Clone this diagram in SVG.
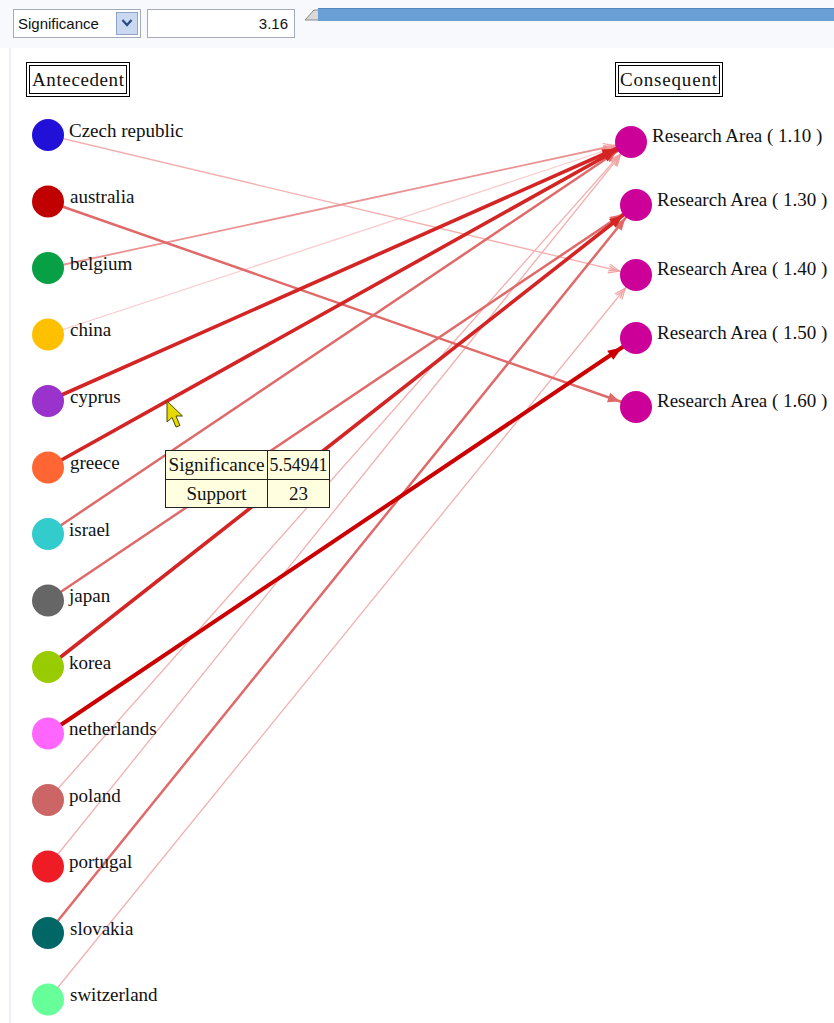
<svg xmlns="http://www.w3.org/2000/svg" width="834" height="1023" viewBox="0 0 834 1023">
<style>
.lbl{font-family:"Liberation Serif","Times New Roman",serif;font-size:19px;fill:#111}
.ui{font-family:"Liberation Sans",Arial,sans-serif;font-size:15px;fill:#111}
.hdr{fill:#fff;stroke:#000;stroke-width:1}
.e{fill:none;stroke-linecap:round}
.thin{stroke:#f3b0b0;stroke-width:1.3;marker-end:url(#aLight)}
.med{stroke:#e06a6a;stroke-width:2.5;marker-end:url(#aMed)}
.thick{stroke:#d42424;stroke-width:3.6;marker-end:url(#aRed)}
.dark{stroke:#cc0000;stroke-width:4;marker-end:url(#aDark)}
.tt{fill:#ffffe0;stroke:#222;stroke-width:1}
.c{fill:#cc0099}
</style>
<defs>
<marker id="aDark" markerUnits="userSpaceOnUse" markerWidth="14" markerHeight="11" viewBox="0 0 14 11" refX="31" refY="5.5" orient="auto" overflow="visible"><path d="M0,0 L14,5.5 L0,11 Z" fill="#cc0000"/></marker>
<marker id="aRed" markerUnits="userSpaceOnUse" markerWidth="13" markerHeight="11" viewBox="0 0 13 11" refX="30" refY="5.5" orient="auto" overflow="visible"><path d="M0,0 L13,5.5 L0,11 Z" fill="#d42424"/></marker>
<marker id="aMed" markerUnits="userSpaceOnUse" markerWidth="12" markerHeight="10" viewBox="0 0 12 10" refX="29" refY="5" orient="auto" overflow="visible"><path d="M0,0 L12,5 L0,10 Z" fill="#e06a6a"/></marker>
<marker id="aLight" markerUnits="userSpaceOnUse" markerWidth="11" markerHeight="10" viewBox="0 0 11 10" refX="28" refY="5" orient="auto" overflow="visible"><path d="M0,0.5 L11,5 L0,9.5 M0,2.5 L7,5 L0,7.5" fill="none" stroke="#f0a0a0" stroke-width="1.2"/></marker>
</defs>
<rect x="0" y="0" width="834" height="1023" fill="#ffffff"/>
<rect x="0" y="0" width="834" height="48" fill="#f8f9fd"/>
<line x1="10" y1="48" x2="10" y2="1023" stroke="#eeeef9" stroke-width="2"/>

<g id="toolbar">
<rect x="13.5" y="9.5" width="127" height="28" fill="#fff" stroke="#a4abb8"/>
<text class="ui" x="18" y="29">Significance</text>
<rect x="116.5" y="12.5" width="21" height="22" fill="#c9d9f1" stroke="#8ea3c6"/>
<path d="M122.5,20 L127,25 L131.5,20" fill="none" stroke="#2b4a85" stroke-width="2.2"/>
<rect x="147.5" y="9.5" width="147" height="28" fill="#fff" stroke="#a4abb8"/>
<text class="ui" x="288" y="29" text-anchor="end">3.16</text>
<path d="M305,20 L314,10 L319,10 L319,20 Z" fill="#d8d8d8" stroke="#8a8a8a" stroke-width="1"/>
<rect x="318" y="8" width="516" height="13" fill="#6a9fd6"/>
<line x1="318" y1="8.5" x2="834" y2="8.5" stroke="#5585bd"/>
</g>

<g id="hdr-antecedent">
<rect class="hdr" x="26.5" y="62.5" width="103" height="34"/>
<rect class="hdr" x="29.5" y="65.5" width="97" height="28"/>
<text class="lbl" x="32" y="86" textLength="92" lengthAdjust="spacing">Antecedent</text>
</g>
<g id="hdr-consequent">
<rect class="hdr" x="615.5" y="62.5" width="107" height="34"/>
<rect class="hdr" x="618.5" y="65.5" width="101" height="28"/>
<text class="lbl" x="620" y="86" textLength="97" lengthAdjust="spacing">Consequent</text>
</g>

<g id="connectors">
<line class="e thin" x1="48" y1="334.5" x2="631" y2="142" style="stroke:#f8cccc"/>
<line class="e thin" x1="48" y1="135" x2="636" y2="275"/>
<line class="e thin" x1="48" y1="999.5" x2="636" y2="275"/>
<line class="e thin" x1="48" y1="800" x2="631" y2="142"/>
<line class="e thin" x1="48" y1="866.5" x2="631" y2="142"/>
<line class="e thin" x1="48" y1="268" x2="631" y2="142" style="stroke:#eb9292;stroke-width:1.8"/>
<line class="e med" x1="48" y1="201.5" x2="636" y2="407"/>
<line class="e med" x1="48" y1="534" x2="631" y2="142"/>
<line class="e med" x1="48" y1="600.5" x2="636" y2="205"/>
<line class="e med" x1="48" y1="933" x2="636" y2="205"/>
<line class="e thick" x1="48" y1="401" x2="631" y2="142"/>
<line class="e thick" x1="48" y1="467.5" x2="631" y2="142"/>
<line class="e thick" x1="48" y1="667" x2="636" y2="205"/>
<line class="e dark" x1="48" y1="733.5" x2="636" y2="338"/>
</g>

<g id="n-czech"><circle cx="48" cy="135" r="16" fill="#2010d8"/><text class="lbl" x="69" y="136.5">Czech republic</text></g>
<g id="n-australia"><circle cx="48" cy="201.5" r="16" fill="#c00000"/><text class="lbl" x="70" y="203">australia</text></g>
<g id="n-belgium"><circle cx="48" cy="268" r="16" fill="#07a044"/><text class="lbl" x="70" y="269.5">belgium</text></g>
<g id="n-china"><circle cx="48" cy="334.5" r="16" fill="#ffc000"/><text class="lbl" x="70" y="336">china</text></g>
<g id="n-cyprus"><circle cx="48" cy="401" r="16" fill="#9933cc"/><text class="lbl" x="70" y="402.5">cyprus</text></g>
<g id="n-greece"><circle cx="48" cy="467.5" r="16" fill="#ff6633"/><text class="lbl" x="70" y="469">greece</text></g>
<g id="n-israel"><circle cx="48" cy="534" r="16" fill="#33cccc"/><text class="lbl" x="69" y="535.5">israel</text></g>
<g id="n-japan"><circle cx="48" cy="600.5" r="16" fill="#666666"/><text class="lbl" x="69" y="602">japan</text></g>
<g id="n-korea"><circle cx="48" cy="667" r="16" fill="#99cc00"/><text class="lbl" x="69" y="668.5">korea</text></g>
<g id="n-netherlands"><circle cx="48" cy="733.5" r="16" fill="#ff66ff"/><text class="lbl" x="69" y="735">netherlands</text></g>
<g id="n-poland"><circle cx="48" cy="800" r="16" fill="#cc6666"/><text class="lbl" x="69" y="801.5">poland</text></g>
<g id="n-portugal"><circle cx="48" cy="866.5" r="16" fill="#ee1c25"/><text class="lbl" x="69" y="868">portugal</text></g>
<g id="n-slovakia"><circle cx="48" cy="933" r="16" fill="#006666"/><text class="lbl" x="70" y="934.5">slovakia</text></g>
<g id="n-switzerland"><circle cx="48" cy="999.5" r="16" fill="#66ff99"/><text class="lbl" x="70" y="1001">switzerland</text></g>

<g id="n-ra110"><circle class="c" cx="631" cy="142" r="16"/><text class="lbl" x="652" y="142">Research Area ( 1.10 )</text></g>
<g id="n-ra130"><circle class="c" cx="636" cy="205" r="16"/><text class="lbl" x="657" y="205.5">Research Area ( 1.30 )</text></g>
<g id="n-ra140"><circle class="c" cx="636" cy="275" r="16"/><text class="lbl" x="657" y="275">Research Area ( 1.40 )</text></g>
<g id="n-ra150"><circle class="c" cx="636" cy="338" r="16"/><text class="lbl" x="657" y="339">Research Area ( 1.50 )</text></g>
<g id="n-ra160"><circle class="c" cx="636" cy="407" r="16"/><text class="lbl" x="657" y="407">Research Area ( 1.60 )</text></g>

<g id="cursor">
<path d="M167,401 L167,422 L172,417.5 L176,427 L180,425.5 L176,416 L182.5,416 Z" fill="#e6d800" stroke="#4a4a00" stroke-width="1"/>
</g>

<g id="tooltip">
<rect class="tt" x="165.5" y="450.5" width="164" height="57"/>
<line x1="165.5" y1="479.5" x2="329.5" y2="479.5" stroke="#222"/>
<line x1="267.5" y1="450.5" x2="267.5" y2="507.5" stroke="#222"/>
<text class="lbl" x="216.5" y="471" text-anchor="middle" textLength="96" lengthAdjust="spacingAndGlyphs">Significance</text>
<text class="lbl" x="298.5" y="471" text-anchor="middle" textLength="58" lengthAdjust="spacingAndGlyphs">5.54941</text>
<text class="lbl" x="216.5" y="499.5" text-anchor="middle">Support</text>
<text class="lbl" x="298.5" y="499.5" text-anchor="middle">23</text>
</g>
</svg>
